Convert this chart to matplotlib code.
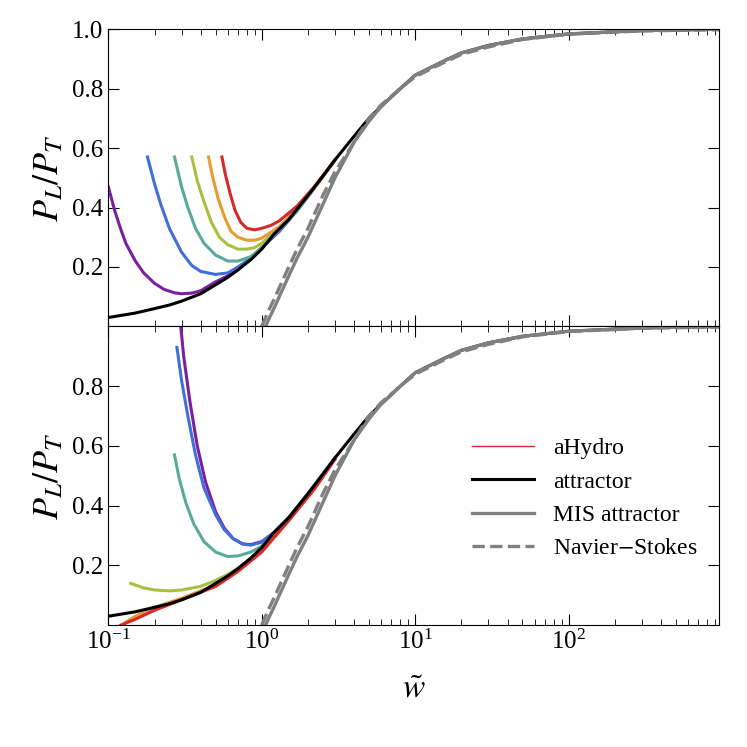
import matplotlib
matplotlib.use("Agg")
import matplotlib.pyplot as plt
from matplotlib.lines import Line2D

plt.rcParams["font.family"] = "Liberation Serif"
plt.rcParams["mathtext.fontset"] = "stix"

att_w = [0.1, 0.15, 0.2, 0.25, 0.3, 0.4, 0.5, 0.6, 0.7, 0.85, 1.0, 1.2, 1.5, 2.0, 2.5, 3.0, 4.0, 5.0, 6.0, 8.0, 10, 15, 20, 30, 50, 100, 300, 1000]
att_y = [0.03, 0.045, 0.06, 0.072, 0.085, 0.11, 0.14, 0.165, 0.19, 0.225, 0.26, 0.31, 0.36, 0.44, 0.505, 0.56, 0.64, 0.70, 0.74, 0.80, 0.845, 0.89, 0.92, 0.945, 0.967, 0.984, 0.995, 1.0]
mis_w = [1.06, 1.1, 1.2, 1.3, 1.5, 1.7, 2.0, 2.5, 3.0, 4.0, 5.0, 6.0, 8.0, 10, 15, 20, 30, 50, 100, 300, 1000]
mis_y = [0.0, 0.02, 0.06, 0.10, 0.17, 0.23, 0.30, 0.41, 0.50, 0.62, 0.69, 0.74, 0.80, 0.845, 0.89, 0.92, 0.945, 0.967, 0.984, 0.995, 1.0]
ns_w = [1.0, 1.1, 1.2, 1.3, 1.5, 1.7, 2.0, 2.5, 3.0, 4.0, 5.0, 6.0, 8.0, 10, 15, 20, 30, 50, 100, 300, 1000]
ns_y = [0.0, 0.05, 0.09, 0.13, 0.20, 0.26, 0.33, 0.44, 0.52, 0.62, 0.70, 0.745, 0.80, 0.84, 0.885, 0.915, 0.94, 0.965, 0.983, 0.994, 0.998]

colors = ["#7b1fa2", "#3f6fd8", "#5aaa9a", "#a8c040", "#e89a30", "#d62a2a"]

top_w = [
    [0.1, 0.11, 0.12, 0.13, 0.15, 0.17, 0.2, 0.23, 0.27, 0.3, 0.35, 0.4, 0.5, 0.6, 0.7, 0.85, 1.0, 1.3, 1.7, 2.2, 3.0],
    [0.18, 0.2, 0.22, 0.25, 0.3, 0.35, 0.4, 0.5, 0.6, 0.7, 0.85, 1.0, 1.3, 1.7, 2.2, 3.0],
    [0.27, 0.3, 0.33, 0.37, 0.42, 0.5, 0.6, 0.7, 0.85, 1.0, 1.3, 1.7, 2.2, 3.0],
    [0.35, 0.38, 0.42, 0.47, 0.53, 0.6, 0.7, 0.8, 0.9, 1.0, 1.3, 1.7, 2.2, 3.0],
    [0.45, 0.48, 0.52, 0.57, 0.63, 0.7, 0.8, 0.9, 1.0, 1.3, 1.7, 2.2, 3.0],
    [0.55, 0.58, 0.62, 0.67, 0.73, 0.8, 0.9, 1.0, 1.15, 1.3, 1.7, 2.2, 3.0],
]
top_y = [
    [0.47, 0.39, 0.33, 0.28, 0.22, 0.18, 0.145, 0.125, 0.113, 0.11, 0.112, 0.12, 0.15, 0.17, 0.195, 0.23, 0.265, 0.32, 0.39, 0.465, 0.56],
    [0.57, 0.48, 0.41, 0.33, 0.25, 0.205, 0.185, 0.175, 0.18, 0.20, 0.23, 0.265, 0.32, 0.39, 0.465, 0.56],
    [0.57, 0.47, 0.40, 0.33, 0.28, 0.24, 0.22, 0.22, 0.235, 0.265, 0.325, 0.39, 0.465, 0.56],
    [0.57, 0.49, 0.42, 0.35, 0.30, 0.275, 0.26, 0.26, 0.265, 0.28, 0.33, 0.395, 0.465, 0.56],
    [0.57, 0.50, 0.43, 0.37, 0.32, 0.30, 0.29, 0.29, 0.297, 0.335, 0.398, 0.467, 0.56],
    [0.57, 0.51, 0.45, 0.39, 0.35, 0.33, 0.325, 0.33, 0.34, 0.355, 0.405, 0.47, 0.56],
]
bot_w = [
    [0.29, 0.31, 0.34, 0.38, 0.43, 0.5, 0.57, 0.65, 0.75, 0.85, 1.0, 1.2, 1.5, 2.0, 3.0],
    [0.28, 0.3, 0.33, 0.37, 0.42, 0.5, 0.57, 0.65, 0.75, 0.85, 1.0, 1.2, 1.5, 2.0, 3.0],
    [0.27, 0.29, 0.32, 0.36, 0.42, 0.5, 0.6, 0.7, 0.85, 1.0, 1.2, 1.5, 2.0, 3.0],
    [0.14, 0.17, 0.2, 0.25, 0.3, 0.4, 0.5, 0.6, 0.7, 0.85, 1.0, 1.3, 1.7, 2.2, 3.0],
    [0.13, 0.15, 0.2, 0.3, 0.5, 0.7, 1.0, 1.5, 2.2, 3.0],
    [0.12, 0.15, 0.2, 0.3, 0.5, 0.7, 1.0, 1.5, 2.2, 3.0],
]
bot_y = [
    [1.05, 0.9, 0.75, 0.6, 0.48, 0.38, 0.325, 0.29, 0.272, 0.27, 0.28, 0.31, 0.36, 0.44, 0.56],
    [0.93, 0.82, 0.70, 0.57, 0.46, 0.37, 0.32, 0.29, 0.272, 0.268, 0.278, 0.31, 0.36, 0.44, 0.56],
    [0.57, 0.49, 0.41, 0.34, 0.28, 0.245, 0.23, 0.232, 0.245, 0.265, 0.305, 0.36, 0.44, 0.56],
    [0.14, 0.125, 0.118, 0.115, 0.118, 0.13, 0.15, 0.17, 0.19, 0.225, 0.255, 0.315, 0.385, 0.46, 0.56],
    [0.01, 0.03, 0.06, 0.09, 0.135, 0.185, 0.25, 0.355, 0.46, 0.56],
    [0.0, 0.02, 0.05, 0.085, 0.13, 0.18, 0.245, 0.35, 0.455, 0.555],
]

fig = plt.figure(figsize=(7.47, 7.47), dpi=100)
ax1 = fig.add_axes([0.145, 0.563, 0.817, 0.398])
ax2 = fig.add_axes([0.145, 0.163, 0.817, 0.400], sharex=ax1)

for ax, ws, ys in [(ax1, top_w, top_y), (ax2, bot_w, bot_y)]:
    for c, w, y in zip(colors, ws, ys):
        ax.plot(w, y, color=c, lw=2.2)
    ax.plot(att_w, att_y, color="black", lw=2.2)
    ax.plot(mis_w, mis_y, color="gray", lw=2.4)
    ax.plot(ns_w, ns_y, color="gray", lw=2.4, ls="--")
    ax.set_xscale("log")
    ax.set_xlim(0.1, 950)
    ax.set_ylim(0, 1.0)
    ax.set_ylabel(r"$P_L/P_T$", fontsize=26)
    ax.tick_params(direction="in", which="both", top=True, right=True, labelsize=18)
    ax.tick_params(which="major", length=8)
    ax.tick_params(which="minor", length=4)

ax1.set_yticks([0.2, 0.4, 0.6, 0.8, 1.0])
ax2.set_yticks([0.2, 0.4, 0.6, 0.8])
plt.setp(ax1.get_xticklabels(), visible=False)
ax2.set_xlabel(r"$\tilde{w}$", fontsize=24, labelpad=14)

handles = [Line2D([], [], color="#d62a2a", lw=1),
           Line2D([], [], color="black", lw=2.2),
           Line2D([], [], color="gray", lw=2.4),
           Line2D([], [], color="gray", lw=2.4, ls="--")]
ax2.legend(handles, ["aHydro", "attractor", "MIS attractor", "Navier$-$Stokes"],
           loc="lower right", bbox_to_anchor=(1.0, 0.15), frameon=False, fontsize=17,
           handlelength=2.6)

fig.savefig("out.png", dpi=100)
